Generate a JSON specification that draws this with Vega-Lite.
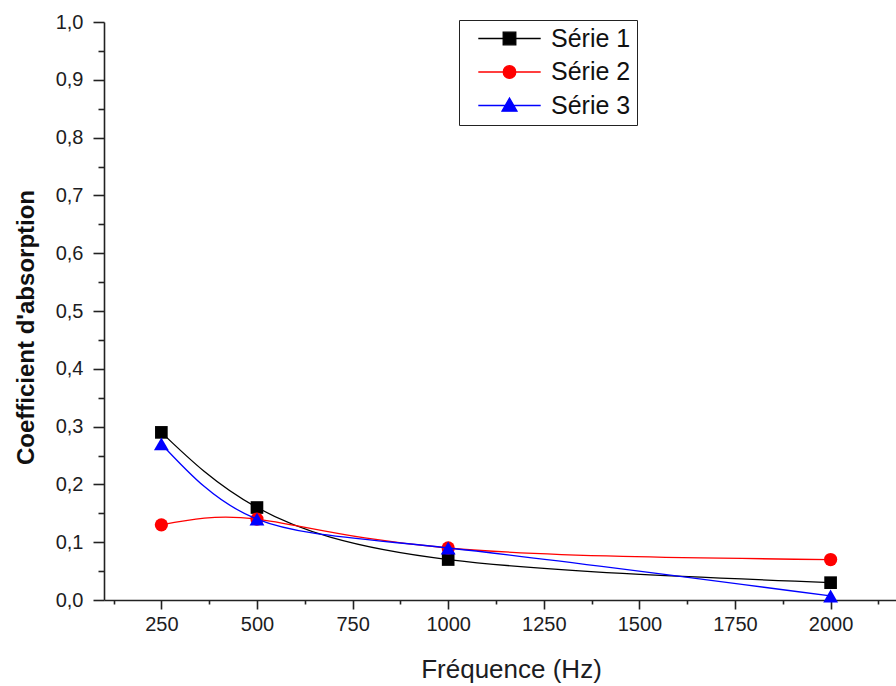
{
  "$schema": "https://vega.github.io/schema/vega-lite/v6.json",
  "autosize": "none",
  "width": 792,
  "height": 578,
  "padding": {"left": 104, "top": 22, "right": 0, "bottom": 86},
  "background": "white",
  "config": {"view": {"stroke": null}, "font": "Liberation Sans"},
  "data": {
    "values": [
      {"f": 250, "v": 0.29, "s": "Série 1"},
      {"f": 500, "v": 0.16, "s": "Série 1"},
      {"f": 1000, "v": 0.07, "s": "Série 1"},
      {"f": 2000, "v": 0.03, "s": "Série 1"},
      {"f": 250, "v": 0.13, "s": "Série 2"},
      {"f": 500, "v": 0.14, "s": "Série 2"},
      {"f": 1000, "v": 0.09, "s": "Série 2"},
      {"f": 2000, "v": 0.07, "s": "Série 2"},
      {"f": 250, "v": 0.27, "s": "Série 3"},
      {"f": 500, "v": 0.14, "s": "Série 3"},
      {"f": 1000, "v": 0.09, "s": "Série 3"},
      {"f": 2000, "v": 0.007, "s": "Série 3"}
    ]
  },
  "encoding": {
    "x": {
      "field": "f",
      "type": "quantitative",
      "scale": {"domain": [100, 2171], "nice": false, "zero": false},
      "axis": {
        "values": [125, 250, 375, 500, 625, 750, 875, 1000, 1125, 1250, 1375, 1500, 1625, 1750, 1875, 2000, 2125],
        "format": "d",
        "labelExpr": "datum.value % 250 === 0 ? datum.label : ''",
        "labelOverlap": false,
        "labelFlush": false,
        "grid": false,
        "domainColor": "#222",
        "domainWidth": 1.6,
        "tickColor": "#222",
        "tickWidth": 1.6,
        "tickSize": {"condition": {"test": "datum.value % 250 === 0", "value": 9}, "value": 4},
        "labelFontSize": 20,
        "labelColor": "#1c1c22",
        "labelPadding": 5,
        "title": "Fréquence (Hz)",
        "titleFontSize": 26,
        "titleFontWeight": "normal",
        "titleColor": "#1c1c22",
        "titleX": 407,
        "titleY": 77,
        "titleBaseline": "alphabetic",
        "titleAlign": "center"
      }
    },
    "y": {
      "field": "v",
      "type": "quantitative",
      "scale": {"domain": [0, 1], "nice": false},
      "axis": {
        "values": [0, 0.05, 0.1, 0.15, 0.2, 0.25, 0.3, 0.35, 0.4, 0.45, 0.5, 0.55, 0.6, 0.65, 0.7, 0.75, 0.8, 0.85, 0.9, 0.95, 1],
        "labelExpr": "round(datum.value * 20) % 2 === 0 ? replace(format(datum.value, '.1f'), '.', ',') : ''",
        "labelOverlap": false,
        "labelFlush": false,
        "grid": false,
        "domainColor": "#222",
        "domainWidth": 1.6,
        "tickColor": "#222",
        "tickWidth": 1.6,
        "tickSize": {"condition": {"test": "round(datum.value * 20) % 2 === 0", "value": 11}, "value": 6},
        "labelFontSize": 20,
        "labelColor": "#1c1c22",
        "labelPadding": 10,
        "title": "Coefficient d'absorption",
        "titleFontSize": 24,
        "titleFontWeight": "bold",
        "titleColor": "#111111",
        "titleX": -66,
        "titleY": 305,
        "titleAlign": "center"
      }
    }
  },
  "layer": [
    {
      "transform": [{"filter": "datum.s === 'Série 1'"}],
      "mark": {
        "type": "line", "interpolate": "natural", "strokeWidth": 1.3, "color": "#000000",
        "point": {"shape": "square", "filled": true, "size": 160, "color": "#000000", "opacity": 1}
      }
    },
    {
      "transform": [{"filter": "datum.s === 'Série 2'"}],
      "mark": {
        "type": "line", "interpolate": "natural", "strokeWidth": 1.3, "color": "#ff0000",
        "point": {"shape": "circle", "filled": true, "size": 175, "color": "#ff0000", "opacity": 1}
      }
    },
    {
      "transform": [{"filter": "datum.s === 'Série 3'"}],
      "mark": {
        "type": "line", "interpolate": "natural", "strokeWidth": 1.3, "color": "#0000ff",
        "point": {"shape": "triangle-up", "filled": true, "size": 220, "color": "#0000ff", "opacity": 1}
      }
    },
    {
      "transform": [{"filter": "datum.v < 0"}],
      "mark": {"type": "point", "filled": true, "strokeWidth": 1.3, "opacity": 1},
      "encoding": {
        "color": {
          "field": "s",
          "type": "nominal",
          "scale": {"domain": ["Série 1", "Série 2", "Série 3"], "range": ["#000000", "#ff0000", "#0000ff"]},
          "legend": {
            "orient": "none",
            "legendX": 355,
            "legendY": -2,
            "title": null,
            "fillColor": "white",
            "strokeColor": "#222",
            "padding": 6,
            "symbolSize": 144,
            "symbolStrokeWidth": 1.3,
            "symbolOpacity": 1,
            "symbolOffset": 32,
            "labelOffset": 29,
            "labelFontSize": 25,
            "labelColor": "#111111",
            "rowPadding": 7.5
          }
        },
        "stroke": {
          "field": "s",
          "type": "nominal",
          "scale": {"domain": ["Série 1", "Série 2", "Série 3"], "range": ["#000000", "#ff0000", "#0000ff"]}
        },
        "shape": {
          "field": "s",
          "type": "nominal",
          "scale": {
            "domain": ["Série 1", "Série 2", "Série 3"],
            "range": [
              "M-5.2,0H5.2M-1.05,-1.05H1.05V1.05H-1.05Z",
              "M-5.2,0H5.2M1.05,0A1.05,1.05,0,1,1,-1.05,0A1.05,1.05,0,1,1,1.05,0Z",
              "M-5.2,0H5.2M0,-1.25L1.25,0.95H-1.25Z"
            ]
          }
        }
      }
    }
  ]
}
